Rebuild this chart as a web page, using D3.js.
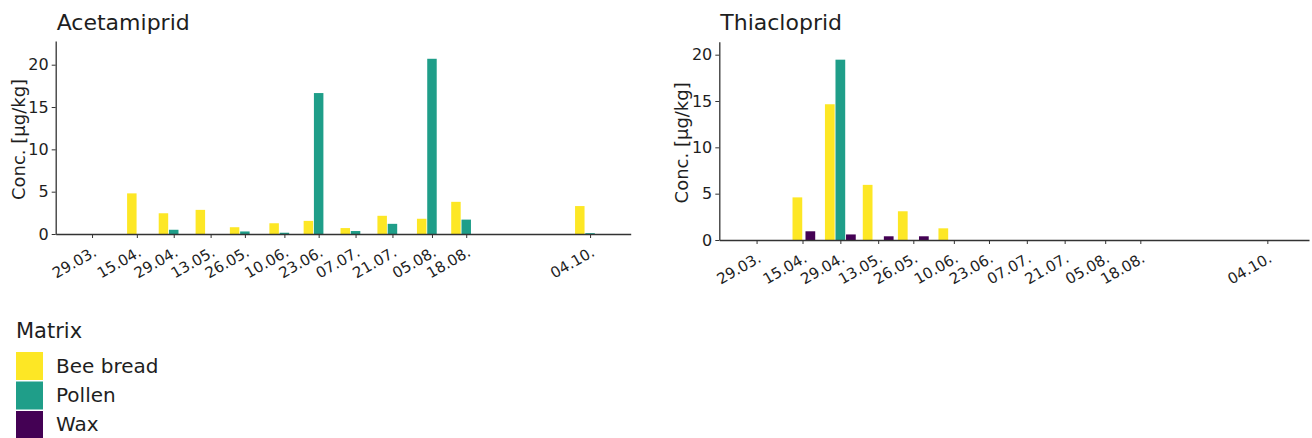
<!DOCTYPE html>
<html>
<head>
<meta charset="utf-8">
<script src="https://cdn.jsdelivr.net/npm/d3@7"></script>
<style>
    body { margin: 0; background: #fff; }
    svg text { font-family: "DejaVu Sans", sans-serif; fill: #1e1e1e; }
</style>
</head>
<body>
<svg id="chart" width="1312" height="438"></svg>
<script>
// sampling rounds (tick labels sit on the pollen dates)
var roundLabels = ["29.03.", "15.04.", "29.04.", "13.05.", "26.05.", "10.06.", "23.06.", "07.07.", "21.07.", "05.08.", "18.08.", "04.10."];
var pollenDates = ["2021-03-29", "2021-04-15", "2021-04-29", "2021-05-13", "2021-05-26", "2021-06-10", "2021-06-23", "2021-07-07", "2021-07-21", "2021-08-05", "2021-08-18", "2021-10-04"];
var beeBreadDates = ["2021-03-29", "2021-04-17", "2021-04-29", "2021-05-13", "2021-05-26", "2021-06-10", "2021-06-23", "2021-07-07", "2021-07-21", "2021-08-05", "2021-08-18", "2021-10-04"];
var waxDates = ["2021-03-29", "2021-04-14", "2021-04-29", "2021-05-13", "2021-05-26", "2021-06-10", "2021-06-23", "2021-07-07", "2021-07-21", "2021-08-05", "2021-08-18", "2021-10-04"];

// concentrations in µg/kg
var acetamipridBeeBread = [0, 4.8, 2.45, 2.85, 0.8, 1.27, 1.55, 0.7, 2.15, 1.8, 3.8, 3.3];
var acetamipridPollen = [0, 0, 0.5, 0, 0.3, 0.15, 16.65, 0.35, 1.2, 20.7, 1.7, 0.1];
var acetamipridWax = [0, 0, 0, 0, 0, 0, 0, 0, 0, 0, 0, 0];
var thiaclopridBeeBread = [0, 4.6, 14.65, 5.95, 3.1, 1.26, 0, 0, 0, 0, 0, 0];
var thiaclopridPollen = [0, 0, 19.46, 0, 0, 0, 0, 0, 0, 0, 0, 0];
var thiaclopridWax = [0, 0.94, 0.6, 0.4, 0.4, 0, 0, 0, 0, 0, 0, 0];

var matrices = ["Bee bread", "Pollen", "Wax"];
var matrixColors = ["#fde725", "#1f9e89", "#440154"];
var yTicks = [0, 5, 10, 15, 20];

var parseDate = d3.utcParse("%Y-%m-%d");
var DAY = 864e5;
var barWidthDays = 3.6;
var dodgeDays = 3.9;

var svg = d3.select("#chart");
svg.append("rect").attr("width", 1312).attr("height", 438).attr("fill", "#fff");

function drawPanel(p) {
    var x = d3.scaleUtc()
        .domain([new Date(Date.UTC(2021, 2, 15, 5)), new Date(Date.UTC(2021, 9, 19, 10))])
        .range([p.left, p.right]);
    var y = d3.scaleLinear()
        .domain([0, p.yMax])
        .range([p.bottom, p.top]);

    var series = [
        { dates: beeBreadDates, values: p.beeBread, shift: -dodgeDays },
        { dates: pollenDates, values: p.pollen, shift: 0 },
        { dates: waxDates, values: p.wax, shift: dodgeDays }
    ];

    var g = svg.append("g");

    series.forEach(function(s, k) {
        var bars = s.values.map(function(v, i) {
            var c = parseDate(s.dates[i]).getTime() + s.shift * DAY;
            return { x0: new Date(c - barWidthDays / 2 * DAY), x1: new Date(c + barWidthDays / 2 * DAY), v: v };
        }).filter(function(d) { return d.v > 0; });

        g.append("g").selectAll("rect")
            .data(bars)
            .enter().append("rect")
            .attr("x", function(d) { return x(d.x0); })
            .attr("width", function(d) { return x(d.x1) - x(d.x0); })
            .attr("y", function(d) { return y(d.v); })
            .attr("height", function(d) { return y(0) - y(d.v); })
            .attr("fill", matrixColors[k]);
    });

    var yAxis = g.append("g")
        .attr("transform", "translate(" + p.left + ",0)")
        .call(d3.axisLeft(y).tickValues(yTicks).tickSize(4).tickSizeOuter(0).tickPadding(3));
    yAxis.selectAll("text").style("font-size", "16px");

    var xAxis = g.append("g")
        .attr("transform", "translate(0," + p.bottom + ")")
        .call(d3.axisBottom(x)
            .tickValues(pollenDates.map(parseDate))
            .tickFormat(function(d, i) { return roundLabels[i]; })
            .tickSize(4).tickSizeOuter(0));
    xAxis.selectAll("text")
        .style("font-size", "15px")
        .attr("text-anchor", "end")
        .attr("dy", null)
        .attr("y", null)
        .attr("transform", "translate(5,21) rotate(-30)");

    g.selectAll(".domain").attr("stroke", "#333").attr("stroke-width", 1.3);
    g.selectAll(".tick line").attr("stroke", "#333");

    g.append("text")
        .attr("x", p.left + 1)
        .attr("y", 30)
        .style("font-size", "22px")
        .text(p.title);

    g.append("text")
        .attr("transform", "translate(" + (p.left - 31) + "," + ((p.top + p.bottom) / 2 + 2) + ") rotate(-90)")
        .attr("text-anchor", "middle")
        .style("font-size", "18px")
        .text("Conc. [µg/kg]");
}

drawPanel({
    title: "Acetamiprid", left: 55.7, right: 630.7, top: 41, bottom: 234, yMax: 22.8,
    beeBread: acetamipridBeeBread, pollen: acetamipridPollen, wax: acetamipridWax
});
drawPanel({
    title: "Thiacloprid", left: 719.3, right: 1309, top: 41.7, bottom: 240, yMax: 21.4,
    beeBread: thiaclopridBeeBread, pollen: thiaclopridPollen, wax: thiaclopridWax
});

// legend
var legend = svg.append("g").attr("transform", "translate(16,0)");
legend.append("text").attr("x", 0).attr("y", 338).style("font-size", "21px").text("Matrix");
matrices.forEach(function(m, i) {
    legend.append("rect")
        .attr("x", 0).attr("y", 352 + i * 29.5)
        .attr("width", 27).attr("height", 28)
        .attr("fill", matrixColors[i]);
    legend.append("text")
        .attr("x", 40).attr("y", 373 + i * 29)
        .style("font-size", "20px")
        .text(m);
});
</script>
</body>
</html>
